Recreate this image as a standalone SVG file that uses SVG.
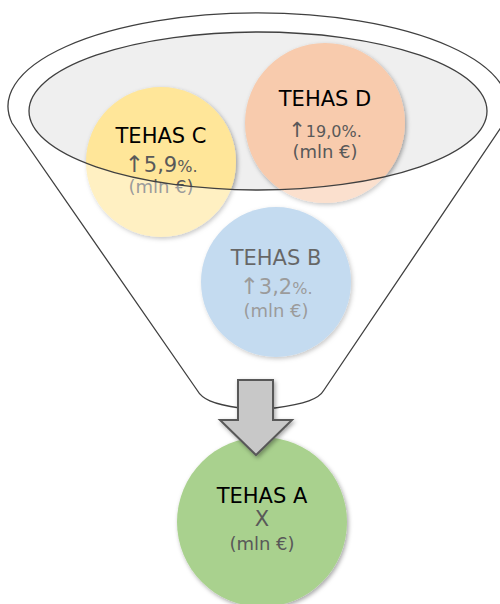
<svg xmlns="http://www.w3.org/2000/svg" width="500" height="604" viewBox="0 0 500 604">
  <defs>
    <filter id="shadow" x="-20%" y="-20%" width="140%" height="140%">
      <feDropShadow dx="1.5" dy="2" stdDeviation="2" flood-color="#000" flood-opacity="0.35"/>
    </filter>
    <style>
      text { font-family: "DejaVu Sans", Verdana, sans-serif; text-anchor: middle; }
      .title { font-size: 21px; fill: #000; }
      .sub { font-size: 18px; fill: #595959; }
      .up { font-size: 23px; }
      .big { font-size: 21px; }
      .small { font-size: 16px; }
      .outline { fill: none; stroke: #404040; stroke-width: 1.3; }
    </style>
  </defs>

  <!-- funnel body and mouth -->
  <g id="funnel">
    <path id="funnel-body" d="M 12,123 A 250 93.4 0 1 1 504,123 L 324,390 C 319,399 305,404 275,408 L 240,408 C 212,404 202,399 197,390 Z" fill="#fff"/>
    <ellipse cx="258" cy="111" rx="229" ry="79" fill="#efefef"/>
  </g>

  <!-- factories inside the funnel -->
  <g id="node-c">
    <circle cx="161" cy="162" r="75" fill="#ffe699" filter="url(#shadow)"/>
    <text class="title" x="161" y="143">TEHAS C</text>
    <text class="sub" x="161" y="172"><tspan class="up">↑</tspan><tspan class="big">5,9</tspan><tspan class="small">%.</tspan></text>
    <text class="sub" x="161" y="193">(mln €)</text>
  </g>
  <g id="node-d">
    <circle cx="325" cy="123" r="80" fill="#f8cbad" filter="url(#shadow)"/>
    <text class="title" x="325" y="106">TEHAS D</text>
    <text class="sub" x="325" y="137"><tspan style="font-size:21px">↑</tspan><tspan class="small">19,0%.</tspan></text>
    <text class="sub" x="325" y="158">(mln €)</text>
  </g>
  <g id="node-b">
    <circle cx="276" cy="282" r="75" fill="#9dc3e6" filter="url(#shadow)"/>
    <text class="title" x="276" y="265">TEHAS B</text>
    <text class="sub" x="276" y="294"><tspan class="up">↑</tspan><tspan class="big">3,2</tspan><tspan class="small">%.</tspan></text>
    <text class="sub" x="276" y="317">(mln €)</text>
  </g>

  <!-- translucent funnel wall over everything outside the mouth -->
  <path id="funnel-wall" fill-rule="evenodd" fill="#fff" fill-opacity="0.4"
        d="M 12,123 A 250 93.4 0 1 1 504,123 L 324,390 C 319,399 305,404 275,408 L 240,408 C 212,404 202,399 197,390 Z
           M 29,111 A 229 79 0 1 0 487,111 A 229 79 0 1 0 29,111 Z"/>

  <!-- funnel outlines -->
  <g id="funnel-lines">
    <path class="outline" d="M 12,123 A 250 93.4 0 1 1 504,123 L 324,390 C 319,399 305,404 275,408 L 240,408 C 212,404 202,399 197,390 Z"/>
    <ellipse class="outline" cx="258" cy="111" rx="229" ry="79"/>
  </g>

  <!-- result factory -->
  <g id="node-a">
    <circle cx="262" cy="522" r="85" fill="#a9d18e" filter="url(#shadow)"/>
    <text class="title" x="262" y="503">TEHAS A</text>
    <text class="sub" x="262" y="526" style="font-size:21px">X</text>
    <text class="sub" x="262" y="550">(mln €)</text>
  </g>

  <!-- flow arrow from funnel neck to result -->
  <g id="connectors">
    <polygon points="238,380 273,380 273,420 292,420 256,455 220,420 238,420" fill="#c8c8c8" stroke="#595959" stroke-width="2" stroke-linejoin="miter" filter="url(#shadow)"/>
  </g>
</svg>
